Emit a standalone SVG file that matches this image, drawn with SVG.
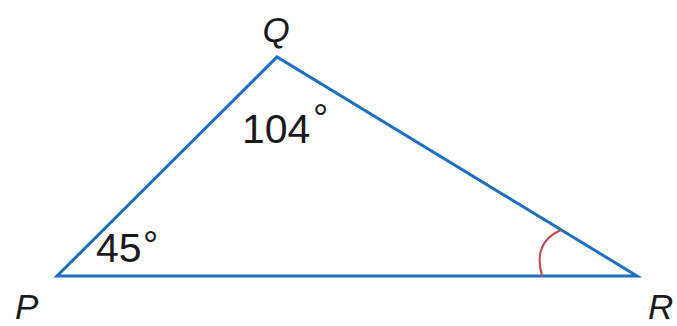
<svg xmlns="http://www.w3.org/2000/svg" width="677" height="326" viewBox="0 0 677 326">
<style>
.lbl{font-family:"Liberation Sans",Arial,sans-serif;font-style:italic;font-size:35px;fill:#1a1a1a}
.ang{font-family:"Liberation Sans",Arial,sans-serif;font-size:41px;fill:#1a1a1a}
.deg{font-family:"Liberation Sans",Arial,sans-serif;font-size:38px;fill:#1a1a1a}
.edge{stroke:#1f6fc0;stroke-width:3;fill:none;stroke-linejoin:miter}
</style>
<rect width="677" height="326" fill="#ffffff"/>
<g id="connectors">
<path class="edge" d="M57,276 L277,57 L637,276 Z"/>
<path d="M542,276 C537,258 538,240 561,230" fill="none" stroke="#c0504d" stroke-width="2.2"/>
</g>
<g id="node-Q"><text class="lbl" x="276" y="42" text-anchor="middle">Q</text></g>
<g id="node-P"><text class="lbl" x="15" y="319">P</text></g>
<g id="node-R"><text class="lbl" x="648" y="319">R</text></g>
<g id="angle-Q"><text class="ang" x="242" y="143">104</text><text class="deg" x="313" y="131">°</text></g>
<g id="angle-P"><text class="ang" x="96" y="262">45</text><text class="deg" x="143" y="258">°</text></g>
</svg>
